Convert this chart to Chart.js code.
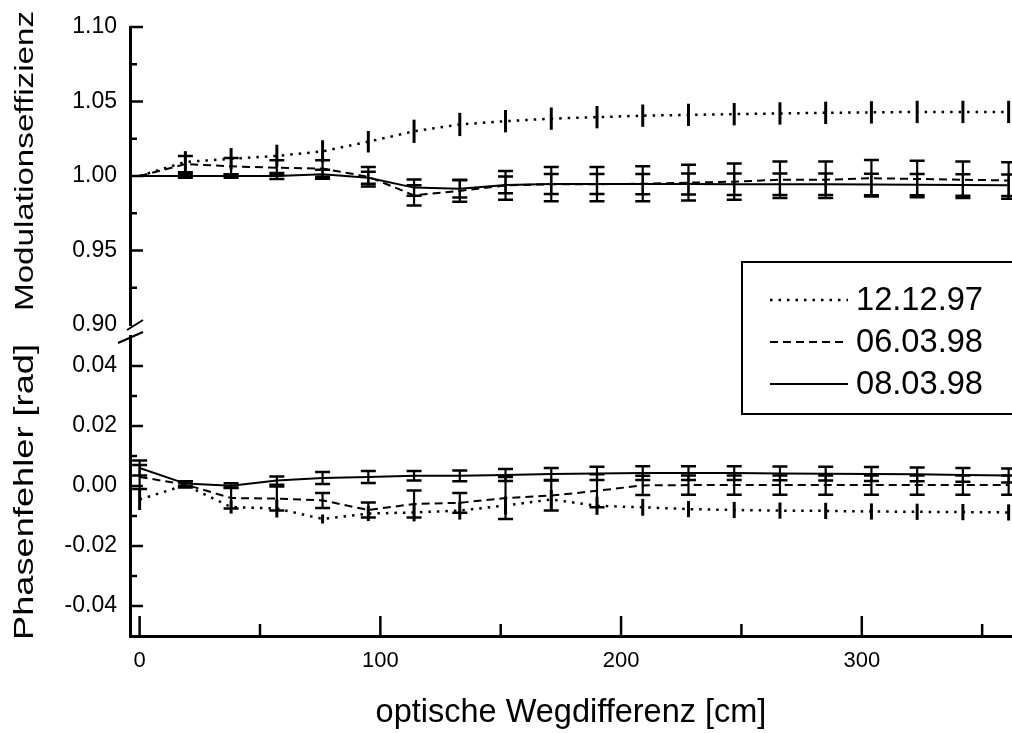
<!DOCTYPE html>
<html>
<head>
<meta charset="utf-8">
<script src="https://cdn.jsdelivr.net/npm/chart.js@4.4.1/dist/chart.umd.min.js"></script>
<style>
  html, body { margin: 0; padding: 0; background: #fff; overflow: hidden; }
  #wrap { width: 1012px; height: 733px; position: relative; }
</style>
</head>
<body>
<div id="wrap"><canvas id="chart" width="1012" height="733"></canvas></div>
<script>
// Optical path difference of the measurement points [cm]
const wegdifferenz = [0, 19, 38, 57, 76, 95, 114, 133, 152, 171, 190, 209, 228, 247, 266, 285, 304, 323, 342, 361];

// Measurement dates (legend entries)
const messtage = ['12.12.97', '06.03.98', '08.03.98'];

// Modulation efficiency and its uncertainty per date
const modulation_121297 = [1.000, 1.0095, 1.0115, 1.0135, 1.0165, 1.0230, 1.0300, 1.0346, 1.0368, 1.0385, 1.0395, 1.0405, 1.0410, 1.0415, 1.0420, 1.0424, 1.0427, 1.0430, 1.0430, 1.0430];
const modulationErr_121297 = [0, 0.0072, 0.0072, 0.0075, 0.0075, 0.0072, 0.0078, 0.0078, 0.0075, 0.0075, 0.0075, 0.0075, 0.0075, 0.0075, 0.0075, 0.0075, 0.0075, 0.0075, 0.0075, 0.0075];
const modulation_060398 = [1.000, 1.0080, 1.0065, 1.0055, 1.0050, 0.9995, 0.9870, 0.9900, 0.9937, 0.9945, 0.9945, 0.9948, 0.9955, 0.9962, 0.9975, 0.9975, 0.9985, 0.9980, 0.9975, 0.9970];
const modulationErr_060398 = [0, 0.0055, 0.0055, 0.0050, 0.0055, 0.0065, 0.0068, 0.0072, 0.0096, 0.0115, 0.0115, 0.0118, 0.0120, 0.0122, 0.0122, 0.0122, 0.0122, 0.0122, 0.0122, 0.0122];
const modulation_080398 = [1.000, 1.000, 1.000, 1.000, 1.0012, 0.9988, 0.9922, 0.9915, 0.9940, 0.9946, 0.9946, 0.9946, 0.9946, 0.9945, 0.9945, 0.9944, 0.9943, 0.9942, 0.9940, 0.9938];
const modulationErr_080398 = [0, 0.0012, 0.0012, 0.0020, 0.0030, 0.0040, 0.0054, 0.0060, 0.0056, 0.0067, 0.0067, 0.0068, 0.0070, 0.0072, 0.0072, 0.0072, 0.0072, 0.0072, 0.0072, 0.0072];

// Phase error [rad] and its uncertainty per date
const phase_121297 = [-0.0045, 0.0003, -0.0070, -0.0075, -0.0110, -0.0092, -0.0088, -0.0082, -0.0065, -0.0045, -0.0066, -0.0071, -0.0077, -0.0080, -0.0082, -0.0083, -0.0085, -0.0086, -0.0087, -0.0088];
const phaseErr_121297 = [0.0035, 0.0010, 0.0022, 0.0030, 0.0015, 0.0025, 0.0030, 0.0030, 0.0030, 0.0032, 0.0030, 0.0028, 0.0027, 0.0027, 0.0027, 0.0027, 0.0027, 0.0027, 0.0027, 0.0027];
const phase_060398 = [0.0030, 0.0005, -0.0040, -0.0042, -0.0048, -0.0080, -0.0060, -0.0056, -0.0040, -0.0032, -0.0016, 0.0002, 0.0003, 0.0003, 0.0003, 0.0003, 0.0003, 0.0003, 0.0003, 0.0003];
const phaseErr_060398 = [0.0040, 0.0010, 0.0035, 0.0040, 0.0025, 0.0025, 0.0045, 0.0033, 0.0070, 0.0050, 0.0055, 0.0032, 0.0032, 0.0032, 0.0032, 0.0032, 0.0032, 0.0032, 0.0032, 0.0032];
const phase_080398 = [0.0060, 0.0008, 0.0001, 0.0018, 0.0027, 0.0030, 0.0034, 0.0034, 0.0037, 0.0040, 0.0042, 0.0043, 0.0043, 0.0043, 0.0042, 0.0041, 0.0040, 0.0039, 0.0037, 0.0035];
const phaseErr_080398 = [0.0025, 0.0008, 0.0008, 0.0014, 0.0020, 0.0020, 0.0016, 0.0018, 0.0020, 0.0020, 0.0022, 0.0023, 0.0023, 0.0023, 0.0023, 0.0023, 0.0023, 0.0023, 0.0023, 0.0023];

// Tick values carrying a label
const xTickLabels = [0, 100, 200, 300];
const modTickLabels = [0.90, 0.95, 1.00, 1.05, 1.10];
const phaseTickLabels = [-0.04, -0.02, 0.00, 0.02, 0.04];

const FONT = '"Liberation Sans", Arial, Helvetica, sans-serif';
Chart.defaults.color = '#000';
Chart.defaults.font.family = FONT;

// Line styles of the three dates
const styles = {
  '12.12.97': { borderDash: [2.5, 6], borderWidth: 2.5, barWidth: 3, capWidth: 0 },
  '06.03.98': { borderDash: [8, 5], borderWidth: 2, barWidth: 2.2, capWidth: 15 },
  '08.03.98': { borderDash: [], borderWidth: 2, barWidth: 2.2, capWidth: 15 }
};

const points = vals => wegdifferenz.map((x, i) => ({ x, y: vals[i] }));

function series(label, axis, vals, errs) {
  const s = styles[label];
  return {
    label, yAxisID: axis, data: points(vals), errorBars: errs,
    borderColor: '#000', backgroundColor: '#000',
    borderWidth: s.borderWidth, borderDash: s.borderDash,
    barWidth: s.barWidth, capWidth: s.capWidth,
    pointRadius: 0, fill: false, tension: 0, inLegend: axis === 'yMod'
  };
}

const datasets = [
  series(messtage[0], 'yMod', modulation_121297, modulationErr_121297),
  series(messtage[1], 'yMod', modulation_060398, modulationErr_060398),
  series(messtage[2], 'yMod', modulation_080398, modulationErr_080398),
  series(messtage[0], 'yPh', phase_121297, phaseErr_121297),
  series(messtage[1], 'yPh', phase_060398, phaseErr_060398),
  series(messtage[2], 'yPh', phase_080398, phaseErr_080398)
];

const near = (list, v, eps) => list.some(t => Math.abs(t - v) < eps);

// Vertical error bars drawn through each dataset's own y scale
const errorBarPlugin = {
  id: 'errorBars',
  afterDatasetsDraw(chart) {
    const ctx = chart.ctx;
    chart.data.datasets.forEach((ds, i) => {
      const meta = chart.getDatasetMeta(i);
      const ys = chart.scales[ds.yAxisID];
      ctx.save();
      ctx.strokeStyle = '#000';
      ds.data.forEach((p, j) => {
        const e = ds.errorBars[j];
        if (!e) return;
        const px = meta.data[j].x;
        const top = ys.getPixelForValue(p.y + e);
        const bot = ys.getPixelForValue(p.y - e);
        ctx.lineWidth = ds.barWidth;
        ctx.beginPath(); ctx.moveTo(px, top); ctx.lineTo(px, bot); ctx.stroke();
        if (ds.capWidth) {
          const h = ds.capWidth / 2;
          ctx.lineWidth = 2.5;
          ctx.beginPath();
          ctx.moveTo(px - h, top); ctx.lineTo(px + h, top);
          ctx.moveTo(px - h, bot); ctx.lineTo(px + h, bot);
          ctx.stroke();
        }
      });
      ctx.restore();
    });
  }
};

// Inward tick marks, axis break, rotated axis titles and the framed legend
const decorPlugin = {
  id: 'decor',
  afterDraw(chart) {
    const ctx = chart.ctx;
    const { x, yMod, yPh } = chart.scales;
    const area = chart.chartArea;
    const seg = (x1, y1, x2, y2) => { ctx.beginPath(); ctx.moveTo(x1, y1); ctx.lineTo(x2, y2); ctx.stroke(); };
    ctx.save();
    ctx.strokeStyle = '#000';
    ctx.fillStyle = '#000';
    ctx.lineWidth = 2.5;

    yMod.ticks.forEach(t => {
      if (t.value <= yMod.min + 1e-6) return;
      const len = near(modTickLabels, t.value, 1e-6) ? 13 : 7;
      const py = yMod.getPixelForValue(t.value);
      seg(yMod.right, py, yMod.right + len, py);
    });
    yPh.ticks.forEach(t => {
      if (t.value <= yPh.min + 1e-6 || t.value >= yPh.max - 1e-6) return;
      const len = near(phaseTickLabels, t.value, 1e-6) ? 13 : 7;
      const py = yPh.getPixelForValue(t.value);
      seg(yPh.right, py, yPh.right + len, py);
    });
    x.ticks.forEach(t => {
      if (t.value < 0 || Math.abs(t.value / 50 - Math.round(t.value / 50)) > 1e-6) return;
      const len = near(xTickLabels, t.value, 1e-6) ? 20 : 12;
      const px = x.getPixelForValue(t.value);
      seg(px, x.top, px, x.top - len);
    });

    // axis break between the two panels
    ctx.lineWidth = 2;
    seg(area.left - 3, yMod.bottom + 5, area.left + 13, yMod.bottom - 5);
    seg(area.left - 12, yPh.top + 7, area.left + 13, yPh.top - 4);

    // rotated y titles
    const vTitle = (text, baseX, centerY, size, length) => {
      ctx.save();
      ctx.font = size + 'px ' + FONT;
      const w = ctx.measureText(text).width;
      ctx.translate(baseX, centerY);
      ctx.rotate(-Math.PI / 2);
      ctx.scale(length / w, 1);
      ctx.textAlign = 'center';
      ctx.textBaseline = 'alphabetic';
      ctx.fillText(text, 0, 0);
      ctx.restore();
    };
    vTitle('Modulationseffizienz', 33, 161, 26, 300);
    vTitle('Phasenfehler [rad]', 33, 492, 27, 296);

    // legend
    const L = { left: 742, top: 262, right: 1030, bottom: 414, lineX1: 770, lineX2: 848, textX: 856, rowY: 300, rowGap: 42 };
    ctx.lineWidth = 2;
    ctx.setLineDash([]);
    ctx.strokeRect(L.left, L.top, L.right - L.left, L.bottom - L.top);
    ctx.font = '34px ' + FONT;
    const sx = 127 / ctx.measureText(messtage[0]).width;
    chart.data.datasets.filter(d => d.inLegend).forEach((ds, i) => {
      const yy = L.rowY + i * L.rowGap;
      ctx.lineWidth = ds.borderWidth;
      ctx.setLineDash(ds.borderDash);
      seg(L.lineX1, yy, L.lineX2, yy);
      ctx.setLineDash([]);
      ctx.save();
      ctx.translate(L.textX, yy);
      ctx.scale(sx, 1);
      ctx.textAlign = 'left';
      ctx.textBaseline = 'middle';
      ctx.fillText(ds.label, 0, 1);
      ctx.restore();
    });
    ctx.restore();
  }
};

const tickFont = { family: FONT, size: 23 };
const hidden = { display: false, drawTicks: false };

new Chart(document.getElementById('chart'), {
  type: 'line',
  data: { datasets },
  options: {
    responsive: false,
    animation: false,
    devicePixelRatio: 1,
    layout: { padding: { top: 27, left: 0, right: 0, bottom: 0 } },
    plugins: { legend: { display: false }, tooltip: { enabled: false } },
    scales: {
      x: {
        type: 'linear', position: 'bottom', min: -4, max: 362.4,
        border: { display: true, color: '#000', width: 3 },
        grid: hidden,
        ticks: {
          stepSize: 50, includeBounds: false, padding: 12, autoSkip: false, maxRotation: 0,
          font: { family: FONT, size: 22 },
          callback: v => near(xTickLabels, v, 1e-6) ? String(Math.round(v)) : ''
        },
        title: { display: true, text: 'optische Wegdifferenz [cm]', font: { family: FONT, size: 32.5 }, padding: { top: 2, bottom: 0 } },
        afterFit: s => { s.height = 97; }
      },
      // the stack is laid out from the bottom up: phase panel, gap, modulation panel
      yPh: {
        type: 'linear', position: 'left', stack: 'panels', stackWeight: 300,
        min: -0.05, max: 0.05,
        border: { display: true, color: '#000', width: 3 },
        grid: hidden,
        ticks: {
          stepSize: 0.01, padding: 13, autoSkip: false, font: tickFont,
          callback: v => near(phaseTickLabels, v, 1e-6) ? (Math.abs(v) < 1e-9 ? '0.00' : v.toFixed(2)) : ''
        },
        afterFit: s => { s.width = 130; }
      },
      yGap: {
        type: 'linear', position: 'left', stack: 'panels', stackWeight: 11,
        border: { display: false }, grid: hidden, ticks: { display: false },
        afterFit: s => { s.width = 130; }
      },
      yMod: {
        type: 'linear', position: 'left', stack: 'panels', stackWeight: 298,
        min: 0.9, max: 1.1,
        border: { display: true, color: '#000', width: 3 },
        grid: hidden,
        ticks: {
          stepSize: 0.025, padding: 13, autoSkip: false, font: tickFont,
          callback: v => near(modTickLabels, v, 1e-6) ? v.toFixed(2) : ''
        },
        afterFit: s => { s.width = 130; }
      }
    }
  },
  plugins: [errorBarPlugin, decorPlugin]
});
</script>
</body>
</html>
